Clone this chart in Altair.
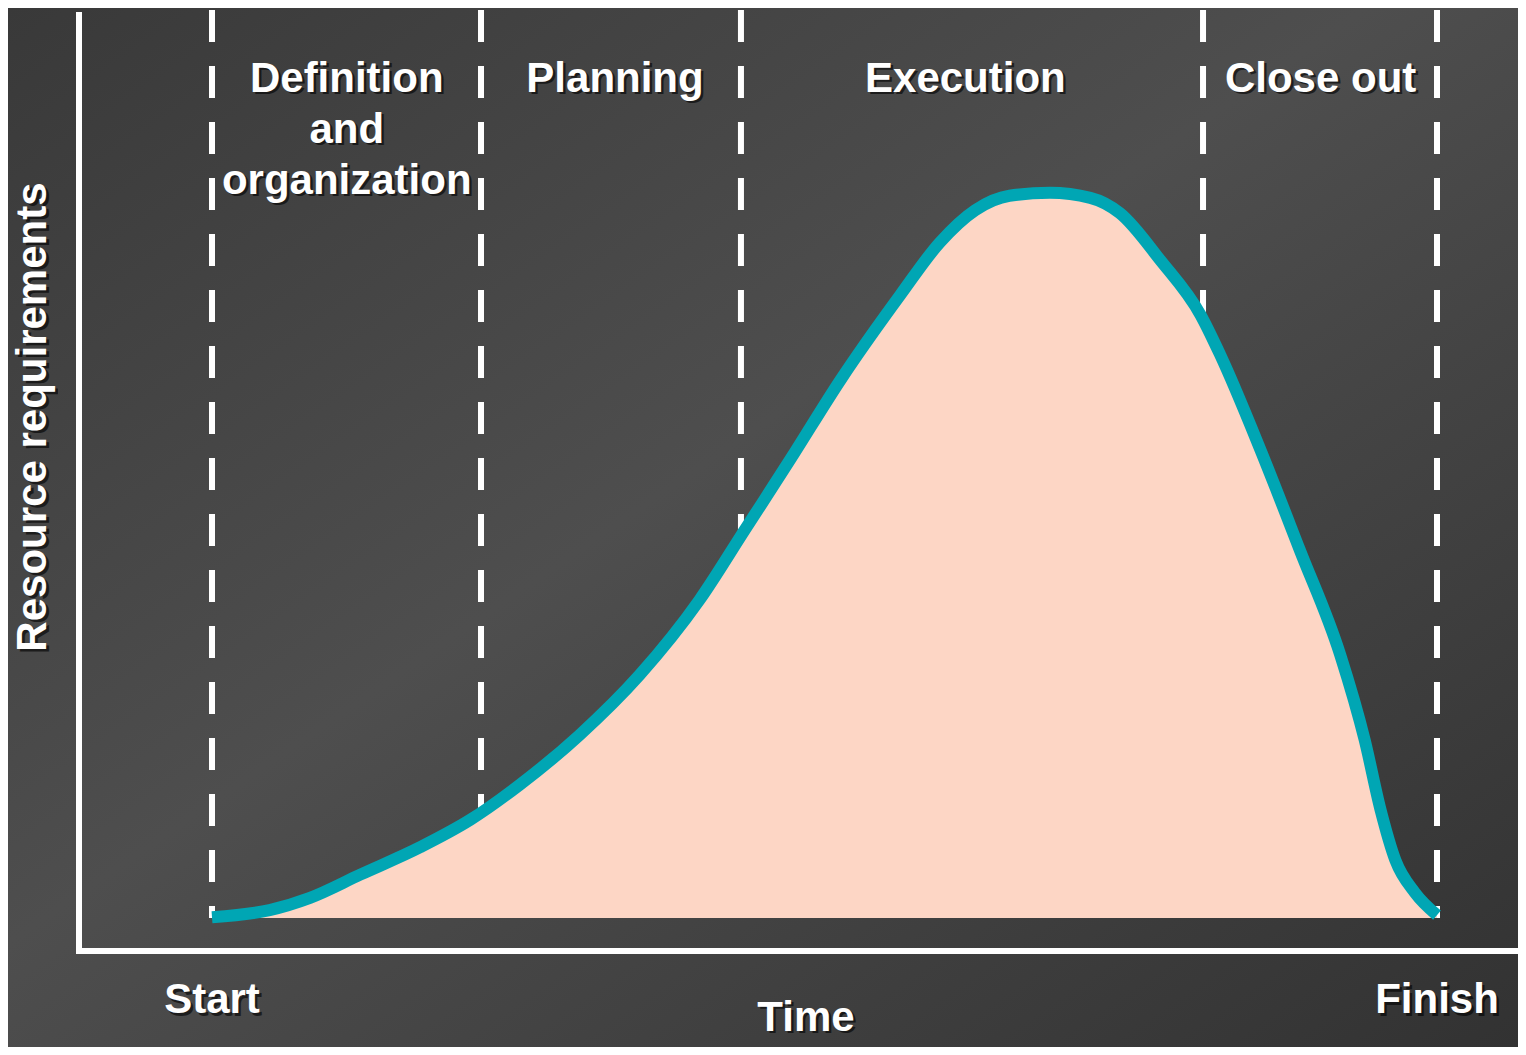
import altair as alt
import pandas as pd

# ---- data ----
time_pts = [0, 4.7, 8.0, 12.1, 17.0, 21.1, 25.1, 30.0, 34.9, 39.8, 43.5, 47.2, 51.3,
            56.2, 59.4, 62.3, 65.1, 68.4, 71.7, 74.1, 77.4, 80.7, 82.3, 85.6, 88.8,
            92.1, 94.1, 95.4, 96.6, 98.2, 100]
resource = [0.1, 1.1, 2.8, 6.0, 9.8, 13.6, 18.4, 25.3, 33.6, 44.0, 53.7, 63.4, 74.4,
            86.2, 93.4, 97.9, 99.9, 100.3, 99.6, 97.5, 91.0, 83.4, 77.9, 64.7, 50.9,
            36.4, 24.6, 14.9, 8.0, 3.5, 0.4]

phase_bounds = [0, 21.96, 43.18, 80.90, 100]
phase_names = ["Definition\nand\norganization", "Planning", "Execution", "Close out"]
phase_label_x = [11.0, 32.9, 61.5, 90.5]

x_tick_labels = ["Start", "Finish"]
x_title = "Time"
y_title = "Resource requirements"

# ---- scales ----
W, H = 1510, 1039
XDOM = [-16.653, 106.612]
YDOM = [-17.842, 125.864]
xs = alt.Scale(domain=XDOM, range=[0, W], nice=False, zero=False)
ys = alt.Scale(domain=YDOM, range=[H, 0], nice=False, zero=False)

FONT = "Liberation Sans"
TEAL = "#00A6B4"
PEACH = "#FDD6C5"

curve = pd.DataFrame({"t": time_pts, "r": resource})

bg = alt.Chart(alt.Data(values=[{}])).mark_rect(
    color={"gradient": "linear", "x1": 0, "y1": 0, "x2": 1, "y2": 1,
           "stops": [{"offset": 0, "color": "#393939"},
                     {"offset": 0.45, "color": "#4e4e4e"},
                     {"offset": 1, "color": "#323232"}]}
).encode(x=alt.value(0), x2=alt.value(W), y=alt.value(0), y2=alt.value(H))

dash_df = pd.DataFrame({"x": phase_bounds, "top": [125.59] * len(phase_bounds), "bot": [0] * len(phase_bounds)})
dashes = alt.Chart(dash_df).mark_rule(color="white", strokeWidth=6, strokeDash=[32, 24]).encode(
    x=alt.X("x:Q", scale=xs, axis=None),
    y=alt.Y("top:Q", scale=ys, axis=None),
    y2="bot:Q",
)

area = alt.Chart(curve).mark_area(color=PEACH, interpolate="monotone", opacity=1).encode(
    x=alt.X("t:Q", scale=xs, axis=None),
    y=alt.Y("r:Q", scale=ys, axis=None),
    y2=alt.datum(0),
)

line = alt.Chart(curve).mark_line(color=TEAL, strokeWidth=12, interpolate="monotone").encode(
    x=alt.X("t:Q", scale=xs, axis=None),
    y=alt.Y("r:Q", scale=ys, axis=None),
)

axes_df = pd.DataFrame({
    "x": [-10.857, -11.1],
    "x2": [-10.857, XDOM[1]],
    "y": [125.31, -4.564],
    "y2": [-4.98, -4.564],
})
axes = alt.Chart(axes_df).mark_rule(color="white", strokeWidth=6).encode(
    x=alt.X("x:Q", scale=xs, axis=None), x2="x2:Q",
    y=alt.Y("y:Q", scale=ys, axis=None), y2="y2:Q",
)

label_df = pd.DataFrame({
    "x": phase_label_x + [0, 100, 48.49],
    "y": [114.25] * 4 + [-13.14, -13.14, -15.6],
    "text": phase_names + x_tick_labels + [x_title],
})


def text_layer(df, shadow, angle=0, align="center"):
    kw = dict(font=FONT, fontSize=42, fontWeight="bold", align=align,
              baseline="alphabetic", lineBreak="\n", lineHeight=51, angle=angle)
    if shadow:
        kw.update(color="black", opacity=0.6, dx=2.5, dy=2.5)
    else:
        kw.update(color="white")
    return alt.Chart(df).mark_text(**kw).encode(
        x=alt.X("x:Q", scale=xs, axis=None),
        y=alt.Y("y:Q", scale=ys, axis=None),
        text="text:N",
    )


ytitle_df = pd.DataFrame({"x": [-13.55], "y": [69.29], "text": [y_title]})

layers = [bg, dashes, area, line, axes,
          text_layer(label_df, True), text_layer(label_df, False)]

yt_shadow = alt.Chart(ytitle_df).mark_text(
    font=FONT, fontSize=42, fontWeight="bold", align="center", baseline="alphabetic",
    angle=270, color="black", opacity=0.6, dx=-2.5, dy=2.5,
).encode(x=alt.X("x:Q", scale=xs, axis=None), y=alt.Y("y:Q", scale=ys, axis=None), text="text:N")
yt = alt.Chart(ytitle_df).mark_text(
    font=FONT, fontSize=42, fontWeight="bold", align="center", baseline="alphabetic",
    angle=270, color="white",
).encode(x=alt.X("x:Q", scale=xs, axis=None), y=alt.Y("y:Q", scale=ys, axis=None), text="text:N")
layers += [yt_shadow, yt]

chart = alt.layer(*layers).properties(
    width=W, height=H, padding=0,
    autosize=alt.AutoSizeParams(type="none"),
    background="#3a3a3a",
).configure_view(stroke=None)

chart.save("out.html", embed_options={"renderer": "svg", "actions": False})
